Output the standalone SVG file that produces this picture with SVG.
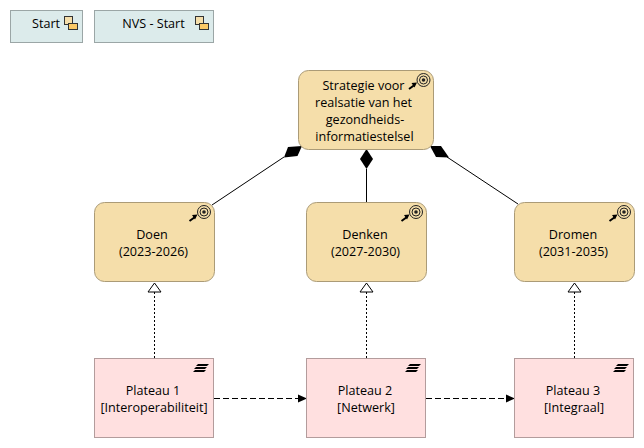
<svg xmlns="http://www.w3.org/2000/svg" width="644" height="448" viewBox="0 0 644 448">
<style>
text{font-family:"Open Sans","Noto Sans","Liberation Sans",sans-serif;font-size:12.6px;fill:#000;text-anchor:middle}
.view{fill:#dcebeb;stroke:#9ba6a6;stroke-width:1}
.goal{fill:#f5deaa;stroke:#ab9b77;stroke-width:1}
.plat{fill:#ffe0e0;stroke:#b39c9c;stroke-width:1}
.line{fill:none;stroke:#000;stroke-width:1}
.dot{fill:none;stroke:#000;stroke-width:1;stroke-dasharray:2 2}
.dash{fill:none;stroke:#000;stroke-width:1;stroke-dasharray:6 3}
</style>
<defs>
<g id="goalIcon">
<circle cx="0" cy="0" r="6.500" fill="none" stroke="#222" stroke-width="1"/>
<circle cx="0" cy="0" r="4" fill="none" stroke="#222" stroke-width="1"/>
<circle cx="0" cy="0" r="1.800" fill="#222"/>
<path d="M-14.500 9L-9 5" stroke="#000" stroke-width="2" fill="none"/>
<path d="M-6.500 2.500L-12 3L-9 7.500Z" fill="#000"/>
</g>
<g id="platIcon">
<path d="M5 0H16L14 2H3Z M3 3H14L12 5H1Z M2 6H13L11 8H0Z" fill="#000"/>
</g>
<g id="viewIcon">
<rect x="0.500" y="0.500" width="8" height="8" fill="#f5deaa" stroke="#333" stroke-width="1"/>
<rect x="4.500" y="7.500" width="9" height="6" fill="#fcc966" stroke="#333" stroke-width="1"/>
</g>
</defs>
<g id="connectors">
<path class="line" d="M284 157L212 205"/>
<path d="M302 146L288 147L284 157.500L297.500 156Z" fill="#000"/>
<path class="line" d="M366.500 169V202"/>
<path d="M366.500 149L373 159L366.500 169L360 159Z" fill="#000"/>
<path class="line" d="M447 157L518 204"/>
<path d="M430 146L441 146L449 157.500L436 157Z" fill="#000"/>
<path class="dot" d="M154.500 358V292"/>
<path d="M154.500 283L161 292H148Z" fill="#fff" stroke="#000"/>
<path class="dot" d="M366.500 358V292"/>
<path d="M366.500 283L373 292H360Z" fill="#fff" stroke="#000"/>
<path class="dot" d="M574.500 358V292"/>
<path d="M574.500 283L581 292H568Z" fill="#fff" stroke="#000"/>
<path class="dash" d="M214 398.500H298"/>
<path d="M307 398.500L298 394.500V402.500Z" fill="#000"/>
<path class="dash" d="M426 398.500H506"/>
<path d="M515 398.500L506 394.500V402.500Z" fill="#000"/>
</g>
<g id="start">
<rect class="view" x="10.500" y="10.500" width="72" height="32"/>
<text x="46" y="28">Start</text>
<use href="#viewIcon" x="64" y="16"/>
</g>
<g id="nvs-start">
<rect class="view" x="94.500" y="10.500" width="119" height="32"/>
<text x="153.500" y="28">NVS - Start</text>
<use href="#viewIcon" x="195" y="16"/>
</g>
<g id="strategie">
<rect class="goal" x="298.500" y="70.500" width="135" height="79" rx="10"/>
<text x="363.500" y="90">Strategie voor</text>
<text x="363.500" y="107">realsatie van het</text>
<text x="365" y="124">gezondheids-</text>
<text x="364.500" y="141">informatiestelsel</text>
<use href="#goalIcon" x="423.500" y="80"/>
</g>
<g id="doen">
<rect class="goal" x="94.500" y="202.500" width="120" height="79" rx="10"/>
<text x="152" y="239">Doen</text>
<text x="153.500" y="256">(2023-2026)</text>
<use href="#goalIcon" x="204" y="212"/>
</g>
<g id="denken">
<rect class="goal" x="306.500" y="202.500" width="120" height="79" rx="10"/>
<text x="365" y="239">Denken</text>
<text x="365.500" y="256">(2027-2030)</text>
<use href="#goalIcon" x="416" y="212"/>
</g>
<g id="dromen">
<rect class="goal" x="514.500" y="202.500" width="120" height="79" rx="10"/>
<text x="573" y="239">Dromen</text>
<text x="573.500" y="256">(2031-2035)</text>
<use href="#goalIcon" x="624" y="212"/>
</g>
<g id="plateau1">
<rect class="plat" x="94.500" y="358.500" width="119" height="79"/>
<text x="153" y="395">Plateau 1</text>
<text x="154" y="412">[Interoperabiliteit]</text>
<use href="#platIcon" x="193" y="364"/>
</g>
<g id="plateau2">
<rect class="plat" x="306.500" y="358.500" width="119" height="79"/>
<text x="365" y="395">Plateau 2</text>
<text x="366" y="412">[Netwerk]</text>
<use href="#platIcon" x="405" y="364"/>
</g>
<g id="plateau3">
<rect class="plat" x="514.500" y="358.500" width="119" height="79"/>
<text x="573" y="395">Plateau 3</text>
<text x="574" y="412">[Integraal]</text>
<use href="#platIcon" x="613" y="364"/>
</g>
</svg>
